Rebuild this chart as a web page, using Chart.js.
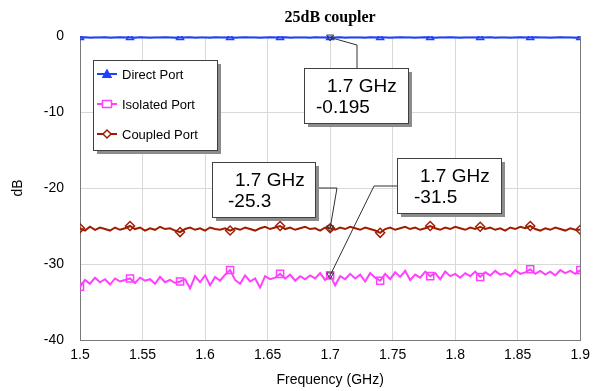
<!DOCTYPE html>
<html>
<head>
<meta charset="utf-8">
<script src="https://cdn.jsdelivr.net/npm/chart.js"></script>
<style>
  html, body { margin: 0; padding: 0; background: #fff; }
  #wrap { width: 597px; height: 391px; }
</style>
</head>
<body>
<div id="wrap"><canvas id="coupler" width="597" height="391"></canvas></div>
<script>
// Frequency sweep (GHz)
const freq = [
  1.500, 1.504, 1.508, 1.512, 1.516, 1.520, 1.524, 1.528, 1.532, 1.536,
  1.540, 1.544, 1.548, 1.552, 1.556, 1.560, 1.564, 1.568, 1.572, 1.576,
  1.580, 1.584, 1.588, 1.592, 1.596, 1.600, 1.604, 1.608, 1.612, 1.616,
  1.620, 1.624, 1.628, 1.632, 1.636, 1.640, 1.644, 1.648, 1.652, 1.656,
  1.660, 1.664, 1.668, 1.672, 1.676, 1.680, 1.684, 1.688, 1.692, 1.696,
  1.700, 1.704, 1.708, 1.712, 1.716, 1.720, 1.724, 1.728, 1.732, 1.736,
  1.740, 1.744, 1.748, 1.752, 1.756, 1.760, 1.764, 1.768, 1.772, 1.776,
  1.780, 1.784, 1.788, 1.792, 1.796, 1.800, 1.804, 1.808, 1.812, 1.816,
  1.820, 1.824, 1.828, 1.832, 1.836, 1.840, 1.844, 1.848, 1.852, 1.856,
  1.860, 1.864, 1.868, 1.872, 1.876, 1.880, 1.884, 1.888, 1.892, 1.896,
  1.900
];

// S-parameters (dB)
const directPort = [
  -0.20, -0.18, -0.22, -0.19, -0.21, -0.17, -0.23, -0.20, -0.18, -0.21,
  -0.19, -0.22, -0.18, -0.20, -0.23, -0.19, -0.21, -0.17, -0.20, -0.22,
  -0.19, -0.21, -0.18, -0.23, -0.20, -0.19, -0.22, -0.18, -0.21, -0.20,
  -0.19, -0.23, -0.20, -0.18, -0.21, -0.19, -0.22, -0.20, -0.18, -0.21,
  -0.20, -0.18, -0.22, -0.19, -0.21, -0.20, -0.23, -0.18, -0.20, -0.21,
  -0.195, -0.21, -0.18, -0.22, -0.20, -0.19, -0.21, -0.23, -0.18, -0.20,
  -0.21, -0.19, -0.22, -0.20, -0.18, -0.21, -0.19, -0.23, -0.20, -0.18,
  -0.20, -0.22, -0.19, -0.21, -0.18, -0.20, -0.22, -0.19, -0.21, -0.20,
  -0.19, -0.21, -0.18, -0.22, -0.20, -0.19, -0.23, -0.20, -0.18, -0.21,
  -0.20, -0.18, -0.21, -0.19, -0.22, -0.20, -0.18, -0.21, -0.19, -0.22,
  -0.20
];

const isolatedPort = [
  -33.0, -32.1, -32.6, -31.8, -32.4, -32.0, -32.7, -31.9, -32.3, -32.1,
  -31.9, -32.5, -31.8, -32.2, -32.0, -32.6, -31.7, -32.4, -32.1, -32.5,
  -32.3, -32.0, -33.2, -31.6, -32.4, -31.5, -32.8, -31.7, -32.2, -31.4,
  -30.8, -32.1, -32.6, -31.5, -32.3, -31.9, -33.1, -31.6, -32.0, -31.8,
  -31.3, -31.9, -31.4, -32.2, -31.6, -32.0, -31.5, -31.9, -31.2, -32.1,
  -31.5, -32.8, -31.6, -32.0, -31.3, -31.9, -31.4, -32.3, -31.2, -31.8,
  -32.2, -31.3, -32.0, -31.1, -31.7, -30.9, -32.1, -31.4, -31.8, -31.0,
  -31.6, -31.2, -32.0, -31.0, -31.6, -31.3, -31.8, -31.2, -31.6, -31.0,
  -31.7, -31.1, -31.5, -30.9, -31.4, -31.2, -31.6, -30.8, -31.3, -31.1,
  -30.7, -31.3, -30.9, -31.4, -31.0, -31.5, -30.8, -31.2, -30.9, -31.3,
  -30.8
];

const coupledPort = [
  -25.3, -25.6, -25.1, -25.5, -25.2, -25.4, -25.6, -25.2, -25.5, -25.3,
  -25.0, -25.4, -25.2, -25.6, -25.3, -25.5, -25.1, -25.4, -25.3, -25.6,
  -25.8, -25.4, -25.2, -25.5, -25.3, -25.6, -25.2, -25.4, -25.5, -25.3,
  -25.6, -25.3, -25.5, -25.2, -25.4, -25.6, -25.3, -25.1, -25.4, -25.2,
  -25.0, -25.4, -25.2, -25.5, -25.3, -25.1, -25.4, -25.3, -25.6, -25.2,
  -25.3, -25.5, -25.2, -25.4, -25.1, -25.3, -25.5, -25.2, -25.4, -25.6,
  -25.9, -25.4, -25.2, -25.5, -25.3, -25.1, -25.4, -25.2, -25.5, -25.3,
  -25.0, -25.3, -25.5, -25.2, -25.4, -25.1, -25.3, -25.5, -25.2, -25.4,
  -25.1, -25.4, -25.2, -25.5, -25.3, -25.6, -25.2, -25.4, -25.1, -25.3,
  -25.0, -25.4, -25.6, -25.3, -25.5, -25.2, -25.4, -25.6, -25.3, -25.5,
  -25.5
];

const xTicks = [1.5, 1.55, 1.6, 1.65, 1.7, 1.75, 1.8, 1.85, 1.9];
const yTicks = [0, -10, -20, -30, -40];

// markers read at 1.7 GHz
const markerFreq = 1.7;
const markerIdx = freq.indexOf(markerFreq);

const BLUE = '#2040ff';
const PINK = '#ff40ff';
const RED = '#a01c00';
const FONT = 'Arial, "Liberation Sans", sans-serif';

function pts(values) {
  return values.map((v, i) => ({ x: freq[i], y: v }));
}

// every 10th sample carries a symbol
function markEvery(r) {
  return ctx => (ctx.dataIndex % 10 === 0 ? r : 0);
}

// Callout boxes (pixel layout) tied to the 1.7 GHz sample of each trace
const callouts = [
  { ds: 0, box: [304, 68, 104, 55], elbow: [[357, 68], [357, 45]], tx: [23, 12] },
  { ds: 2, box: [212, 162, 103, 55], elbow: [[315, 188], [337, 188]], tx: [23, 16] },
  { ds: 1, box: [397, 158, 104, 55], elbow: [[397, 186], [374, 186]], tx: [23, 17] }
];

function shape(ctx, style, x, y, r, fill) {
  ctx.beginPath();
  if (style === 'triangle') {
    ctx.moveTo(x, y - r);
    ctx.lineTo(x + r, y + r * 0.8);
    ctx.lineTo(x - r, y + r * 0.8);
  } else if (style === 'rect') {
    ctx.rect(x - r, y - r * 0.8, r * 2, r * 1.6);
  } else if (style === 'rectRot') {
    ctx.moveTo(x, y - r);
    ctx.lineTo(x + r, y);
    ctx.lineTo(x, y + r);
    ctx.lineTo(x - r, y);
  } else if (style === 'down') {
    ctx.moveTo(x - r, y - r * 0.7);
    ctx.lineTo(x + r, y - r * 0.7);
    ctx.lineTo(x, y + r);
  }
  ctx.closePath();
  if (fill) { ctx.fillStyle = fill; ctx.fill(); }
  ctx.stroke();
}

function shadowBox(ctx, x, y, w, h) {
  ctx.fillStyle = '#8c8c8c';
  ctx.fillRect(x + 4, y + 4, w, h);
  ctx.fillStyle = '#ffffff';
  ctx.fillRect(x, y, w, h);
  ctx.strokeStyle = '#404040';
  ctx.lineWidth = 1;
  ctx.strokeRect(x + 0.5, y + 0.5, w, h);
}

const decorations = {
  id: 'decorations',
  afterDraw(chart) {
    const ctx = chart.ctx;
    const xs = chart.scales.x, ys = chart.scales.y;
    const area = chart.chartArea;
    ctx.save();

    // title
    ctx.fillStyle = '#000';
    ctx.font = 'bold 16px "Liberation Serif", "Times New Roman", serif';
    ctx.textAlign = 'center';
    ctx.textBaseline = 'middle';
    ctx.fillText('25dB coupler', (area.left + area.right) / 2, 18);

    // legend
    shadowBox(ctx, 93, 60, 124, 90);
    ctx.font = '13px ' + FONT;
    ctx.textAlign = 'left';
    chart.data.datasets.forEach((ds, i) => {
      const y = 74 + i * 30;
      ctx.strokeStyle = ds.borderColor;
      ctx.lineWidth = 2;
      ctx.beginPath();
      ctx.moveTo(97, y);
      ctx.lineTo(117, y);
      ctx.stroke();
      ctx.lineWidth = 1.5;
      shape(ctx, ds.pointStyle, 107, y, ds.pointStyle === 'rect' ? 4.5 : 4,
        ds.pointStyle === 'triangle' ? ds.borderColor : '#fff');
      ctx.fillStyle = '#000';
      ctx.fillText(ds.label, 122, y + 1);
    });

    // callouts
    callouts.forEach(c => {
      const v = chart.data.datasets[c.ds].data[markerIdx].y;
      const px = xs.getPixelForValue(markerFreq);
      const py = ys.getPixelForValue(v);
      ctx.strokeStyle = '#303030';
      ctx.lineWidth = 1;
      ctx.beginPath();
      ctx.moveTo(c.elbow[0][0], c.elbow[0][1]);
      ctx.lineTo(c.elbow[1][0], c.elbow[1][1]);
      ctx.lineTo(px, py);
      ctx.stroke();
      shape(ctx, 'down', px, py, 3.5, null);

      const [bx, by, bw, bh] = c.box;
      shadowBox(ctx, bx, by, bw, bh);
      ctx.fillStyle = '#000';
      ctx.font = '19px ' + FONT;
      ctx.textAlign = 'left';
      ctx.textBaseline = 'alphabetic';
      ctx.fillText(markerFreq + ' GHz', bx + c.tx[0], by + 24);
      ctx.fillText(String(v), bx + c.tx[1], by + 45);
    });

    ctx.restore();
  }
};

new Chart(document.getElementById('coupler'), {
  type: 'line',
  data: {
    datasets: [
      {
        label: 'Direct Port',
        data: pts(directPort),
        borderColor: BLUE,
        borderWidth: 2,
        pointStyle: 'triangle',
        pointRadius: markEvery(4),
        pointBorderWidth: 1.5,
        pointBorderColor: BLUE,
        pointBackgroundColor: 'rgba(0,0,0,0)',
        tension: 0
      },
      {
        label: 'Isolated Port',
        data: pts(isolatedPort),
        borderColor: PINK,
        borderWidth: 2,
        pointStyle: 'rect',
        pointRadius: markEvery(5),
        pointBorderWidth: 1.5,
        pointBorderColor: PINK,
        pointBackgroundColor: 'rgba(0,0,0,0)',
        tension: 0
      },
      {
        label: 'Coupled Port',
        data: pts(coupledPort),
        borderColor: RED,
        borderWidth: 2,
        pointStyle: 'rectRot',
        pointRadius: markEvery(4.5),
        pointBorderWidth: 1.5,
        pointBorderColor: RED,
        pointBackgroundColor: 'rgba(0,0,0,0)',
        tension: 0
      }
    ]
  },
  options: {
    responsive: false,
    animation: false,
    events: [],
    layout: { padding: { top: 36, right: 16, left: 0, bottom: 0 } },
    plugins: {
      legend: { display: false },
      tooltip: { enabled: false },
      title: { display: false }
    },
    scales: {
      x: {
        type: 'linear',
        min: 1.5,
        max: 1.9,
        afterFit: s => { s.height = 51; },
        afterBuildTicks: s => { s.ticks = xTicks.map(v => ({ value: v })); },
        ticks: {
          padding: 7,
          color: '#000',
          font: { family: FONT, size: 14 },
          callback: v => String(v)
        },
        grid: { color: '#d9d9d9', drawTicks: false },
        border: { color: '#7a7a7a', width: 1 },
        title: {
          display: true,
          text: 'Frequency (GHz)',
          color: '#000',
          font: { family: FONT, size: 14 },
          padding: { top: 0, bottom: 2 }
        }
      },
      y: {
        min: -40,
        max: 0,
        afterFit: s => { s.width = 80; },
        afterBuildTicks: s => { s.ticks = yTicks.map(v => ({ value: v })); },
        ticks: {
          padding: 16,
          color: '#000',
          font: { family: FONT, size: 14 },
          callback: v => String(v)
        },
        grid: { color: '#d9d9d9', drawTicks: false },
        border: { color: '#7a7a7a', width: 1 },
        title: {
          display: true,
          text: 'dB',
          color: '#000',
          font: { family: FONT, size: 14 },
          padding: { top: 10, bottom: 0 }
        }
      },
      y2: {
        position: 'right',
        min: -40,
        max: 0,
        afterFit: s => { s.width = 0; },
        ticks: { display: false },
        grid: { display: false, drawTicks: false },
        border: { color: '#7a7a7a', width: 1 }
      }
    }
  },
  plugins: [decorations]
});
</script>
</body>
</html>
